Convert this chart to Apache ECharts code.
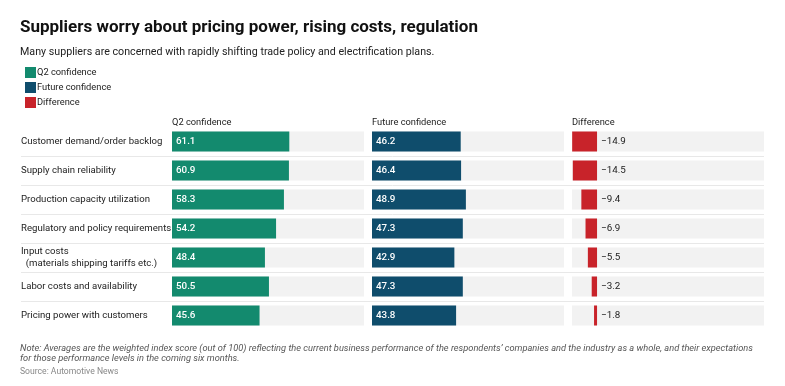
<!DOCTYPE html>
<html>
<head>
<meta charset="utf-8">
<script src="https://cdn.jsdelivr.net/npm/echarts@6/dist/echarts.min.js"></script>
<style>
html,body{margin:0;padding:0;background:#fff;}
#chart{width:785px;height:386px;}
</style>
</head>
<body>
<div id="chart"></div>
<script>
const categories = [
  'Customer demand/order backlog',
  'Supply chain reliability',
  'Production capacity utilization',
  'Regulatory and policy requirements',
  'Input costs\n  (materials shipping tariffs etc.)',
  'Labor costs and availability',
  'Pricing power with customers'
];
const q2Confidence = [61.1, 60.9, 58.3, 54.2, 48.4, 50.5, 45.6];
const futureConfidence = [46.2, 46.4, 48.9, 47.3, 42.9, 47.3, 43.8];
const difference = [-14.9, -14.5, -9.4, -6.9, -5.5, -3.2, -1.8];
const seriesNames = ['Q2 confidence', 'Future confidence', 'Difference'];

const GREEN = '#138a6e', BLUE = '#0f4d6c', RED = '#c8232a', BG = '#f2f2f2';
const FONT = 'Roboto';
const gridTop = 127, gridH = 203;

const chart = echarts.init(document.getElementById('chart'));

function catAxis(idx, showLabels) {
  return {
    type: 'category', gridIndex: idx, data: categories, inverse: true,
    axisLine: {show: false}, axisTick: {show: false}, splitLine: {show: false},
    axisLabel: showLabels ? {
      show: true, align: 'left', margin: 151, fontSize: 9.6, color: '#222',
      fontFamily: FONT, lineHeight: 11.5
    } : {show: false}
  };
}
function valAxis(idx, min, max) {
  return {
    type: 'value', gridIndex: idx, min: min, max: max,
    axisLine: {show: false}, axisTick: {show: false}, axisLabel: {show: false},
    splitLine: {show: false}
  };
}

const option = {
  animation: false,
  textStyle: {fontFamily: FONT},
  color: [GREEN, BLUE, RED],
  legend: {
    orient: 'vertical', left: 20, top: 62, itemWidth: 11, itemHeight: 11, itemGap: 4,
    icon: 'rect', textStyle: {fontSize: 9.3, color: '#222', fontFamily: FONT, padding: [0,0,0,-4]},
    data: seriesNames, selectedMode: false
  },
  grid: [
    {left: 172, width: 192, top: gridTop, height: gridH},
    {left: 372, width: 192, top: gridTop, height: gridH},
    {left: 572, width: 192, top: gridTop, height: gridH},
    {left: 21, width: 743, top: gridTop, height: gridH}
  ],
  xAxis: [valAxis(0, 0, 100), valAxis(1, 0, 100), valAxis(2, -15, 100), valAxis(3, 0, 1)],
  yAxis: [catAxis(0, true), catAxis(1, false), catAxis(2, false),
    {type: 'value', gridIndex: 3, min: 0, max: categories.length, interval: 1, inverse: true,
     axisLine: {show: false}, axisTick: {show: false}, axisLabel: {show: false},
     splitLine: {show: true, showMinLine: false, showMaxLine: false, lineStyle: {color: '#e8e8e8', width: 1}}}
  ],
  series: [
    {
      name: seriesNames[0], type: 'bar', xAxisIndex: 0, yAxisIndex: 0, data: q2Confidence,
      barWidth: 20, showBackground: true, backgroundStyle: {color: BG},
      itemStyle: {color: GREEN},
      label: {show: true, position: 'insideLeft', distance: 4, color: '#fff', fontSize: 9.8, fontWeight: 500,
        fontFamily: FONT, formatter: p => p.value.toFixed(1)}
    },
    {
      name: seriesNames[1], type: 'bar', xAxisIndex: 1, yAxisIndex: 1, data: futureConfidence,
      barWidth: 20, showBackground: true, backgroundStyle: {color: BG},
      itemStyle: {color: BLUE},
      label: {show: true, position: 'insideLeft', distance: 4, color: '#fff', fontSize: 9.8, fontWeight: 500,
        fontFamily: FONT, formatter: p => p.value.toFixed(1)}
    },
    {
      name: seriesNames[2], type: 'bar', xAxisIndex: 2, yAxisIndex: 2, data: difference,
      barWidth: 20, showBackground: true, backgroundStyle: {color: BG},
      itemStyle: {color: RED},
      label: {show: true, position: 'right', distance: 4, color: '#222', fontSize: 9.8,
        fontFamily: FONT, formatter: p => '\u2212' + Math.abs(p.value).toFixed(1)}
    }
  ],
  graphic: [
    {type: 'text', x: 20, y: 27.5, style: {text: 'Suppliers worry about pricing power, rising costs, regulation',
      font: 'bold 17px Roboto', fill: '#111', verticalAlign: 'middle'}},
    {type: 'text', x: 20, y: 52, style: {text: 'Many suppliers are concerned with rapidly shifting trade policy and electrification plans.',
      font: '10.7px Roboto', fill: '#222', verticalAlign: 'middle'}},
    {type: 'text', x: 172, y: 122.5, style: {text: seriesNames[0], font: '9.3px Roboto', fill: '#222', verticalAlign: 'middle'}},
    {type: 'text', x: 372, y: 122.5, style: {text: seriesNames[1], font: '9.3px Roboto', fill: '#222', verticalAlign: 'middle'}},
    {type: 'text', x: 572, y: 122.5, style: {text: seriesNames[2], font: '9.3px Roboto', fill: '#222', verticalAlign: 'middle'}},
    {type: 'text', x: 20, y: 348.5, style: {text: 'Note: Averages are the weighted index score (out of 100) reflecting the current business performance of the respondents\u2019 companies and the industry as a whole, and their expectations',
      font: 'italic 9.25px Roboto', fill: '#555', verticalAlign: 'middle'}},
    {type: 'text', x: 20, y: 358.5, style: {text: 'for those performance levels in the coming six months.',
      font: 'italic 9.25px Roboto', fill: '#555', verticalAlign: 'middle'}},
    {type: 'text', x: 20, y: 371.5, style: {text: 'Source: Automotive News',
      font: '8.6px Roboto', fill: '#888', verticalAlign: 'middle'}}
  ]
};
chart.setOption(option);
</script>
</body>
</html>
